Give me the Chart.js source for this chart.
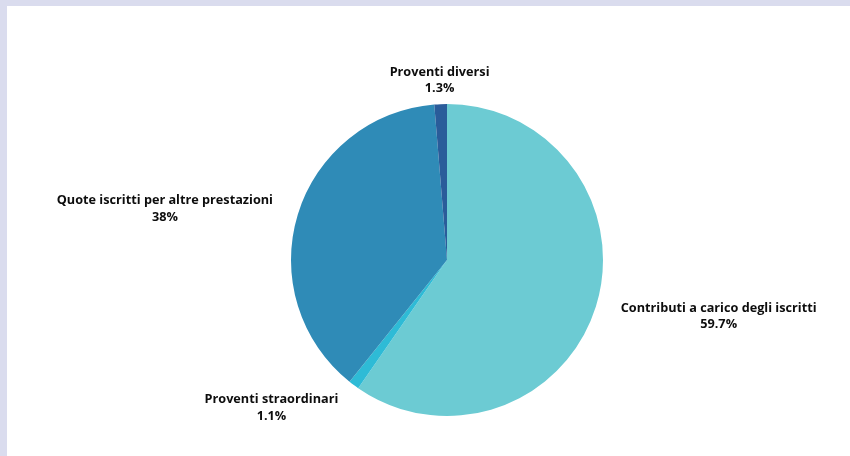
<!DOCTYPE html>
<html>
<head>
<meta charset="utf-8">
<script src="https://cdn.jsdelivr.net/npm/chart.js@4"></script>
<style>
  html, body { margin: 0; padding: 0; background: #dadcee; }
  #frame { position: absolute; left: 7px; top: 6px; width: 843px; height: 450px; background: #ffffff; }
  canvas { display: block; }
</style>
</head>
<body>
<div id="frame"><canvas id="myChart" width="843" height="450"></canvas></div>
<script>
const categories = ['Contributi a carico degli iscritti', 'Proventi straordinari', 'Quote iscritti per altre prestazioni', 'Proventi diversi'];
const shares = [59.7, 1.1, 38, 1.3];
const shareLabels = ['59.7%', '1.1%', '38%', '1.3%'];
const colors = ['#6ccbd3', '#2ebbd6', '#2f8bb7', '#2a5c9a'];

// labels outside the pie, placed along the middle of each slice
const outsideLabels = {
    id: 'outsideLabels',
    afterDatasetsDraw(chart) {
        const ctx = chart.ctx;
        const meta = chart.getDatasetMeta(0);
        ctx.save();
        ctx.font = 'bold 12.7px "Open Sans"';
        ctx.fillStyle = '#0d0d0d';
        ctx.textBaseline = 'middle';
        ctx.textAlign = 'center';
        meta.data.forEach((arc, i) => {
            const p = arc.getProps(['x', 'y', 'startAngle', 'endAngle', 'outerRadius'], true);
            const mid = (p.startAngle + p.endAngle) / 2;
            const dx = Math.cos(mid), dy = Math.sin(mid);
            const dist = p.outerRadius + 26;
            const ax = p.x + dx * dist, ay = p.y + dy * dist;
            const lines = [categories[i], shareLabels[i]];
            const w = Math.max(...lines.map(l => ctx.measureText(l).width));
            let cx = ax;
            if (dx > 0.2) cx = ax + w / 2;
            else if (dx < -0.2) cx = ax - w / 2;
            const lh = 16.5;
            const top = ay - lh / 2 + 2;
            lines.forEach((l, k) => ctx.fillText(l, cx, top + k * lh));
        });
        ctx.restore();
    }
};

const ctx = document.getElementById('myChart').getContext('2d');

const myPieChart = new Chart(ctx, {
    type: 'pie',
    data: {
        labels: categories,
        datasets: [{
            data: shares,
            backgroundColor: colors,
            borderWidth: 0
        }]
    },
    options: {
        responsive: false,
        maintainAspectRatio: false,
        animation: false,
        layout: {
            padding: {left: 200, right: 163, top: 98, bottom: 40}
        },
        plugins: {
            legend: {display: false},
            tooltip: {enabled: false}
        }
    },
    plugins: [outsideLabels]
});
</script>
</body>
</html>
